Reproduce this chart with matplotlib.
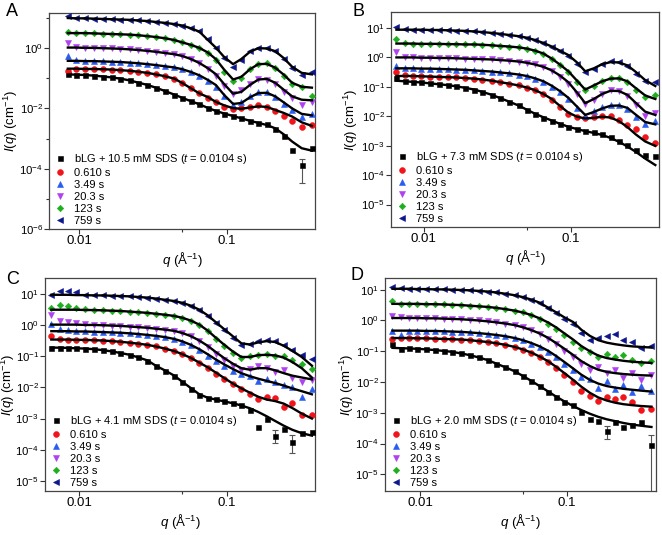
import matplotlib
matplotlib.use("Agg")
import matplotlib.pyplot as plt
import numpy as np
from matplotlib.ticker import FixedLocator, FixedFormatter, NullFormatter, LogFormatterSciNotation

plt.rcParams['font.family'] = ['Liberation Sans', 'DejaVu Sans']
plt.rcParams['mathtext.fontset'] = 'custom'
plt.rcParams['mathtext.rm'] = 'Liberation Sans'
plt.rcParams['mathtext.it'] = 'Liberation Sans:italic'

# q grid (1/A) shared by all panels; panel A starts at the third point
Q = [0.0065, 0.0074, 0.0084, 0.0096, 0.011, 0.0126, 0.0145, 0.0166, 0.019, 0.022,
     0.025, 0.029, 0.033, 0.038, 0.044, 0.050, 0.057, 0.065, 0.074, 0.084,
     0.096, 0.11, 0.125, 0.143, 0.163, 0.186, 0.212, 0.242, 0.276, 0.32, 0.375]

TIMES = ['0.610 s', '3.49 s', '20.3 s', '123 s', '759 s']

# all intensities below are log10(I / cm^-1)
# ---- panel A, 10.5 mM SDS (q = Q[2:])
A_BLG = [-0.85, -0.88, -0.89, -0.91, -0.94, -0.97, -1.01, -1.07, -1.14, -1.22, -1.31, -1.42, -1.54, -1.65, -1.76,
         -1.86, -1.98, -2.08, -2.17, -2.25, -2.33, -2.40, -2.47, -2.52, -2.68, -2.90, -3.38, -3.88, -3.30]
A_0610 = [-0.76, -0.68, -0.68, -0.69, -0.70, -0.71, -0.73, -0.75, -0.78, -0.82, -0.87, -0.93, -1.02, -1.16, -1.33,
          -1.50, -1.64, -1.80, -1.94, -2.02, -2.00, -1.94, -1.90, -1.96, -2.10, -2.24, -2.40, -2.62, -2.56]
A_349 = [-0.27, -0.40, -0.42, -0.43, -0.44, -0.45, -0.46, -0.48, -0.50, -0.53, -0.56, -0.60, -0.64, -0.70, -0.80,
         -0.92, -1.08, -1.28, -1.60, -1.88, -1.78, -1.60, -1.46, -1.47, -1.62, -1.84, -2.06, -2.30, -2.20]
A_203 = [0.16, 0.03, 0.02, 0.01, 0.00, -0.01, -0.02, -0.04, -0.06, -0.09, -0.12, -0.16, -0.20, -0.27, -0.37,
         -0.50, -0.70, -0.92, -1.25, -1.52, -1.40, -1.18, -1.02, -1.04, -1.18, -1.44, -1.66, -1.90, -1.80]
A_123 = [0.55, 0.51, 0.50, 0.49, 0.48, 0.47, 0.46, 0.45, 0.43, 0.40, 0.37, 0.33, 0.27, 0.19, 0.11,
         0.01, -0.16, -0.40, -0.78, -1.08, -0.98, -0.70, -0.52, -0.50, -0.66, -0.92, -1.18, -1.30, -1.60]
A_759 = [1.06, 1.00, 0.99, 0.98, 0.97, 0.97, 0.95, 0.94, 0.92, 0.90, 0.87, 0.84, 0.80, 0.74, 0.66,
         0.56, 0.30, 0.02, -0.32, -0.62, -0.40, -0.10, 0.02, 0.00, -0.08, -0.36, -0.66, -0.88, -0.80]
A_FIT_BLG = [-0.87, -0.88, -0.89, -0.91, -0.94, -0.97, -1.01, -1.07, -1.14, -1.22, -1.31, -1.42, -1.54, -1.65, -1.76,
             -1.86, -1.98, -2.08, -2.17, -2.25, -2.33, -2.41, -2.48, -2.55, -2.66, -2.86, -3.10, -3.32, -3.40]
A_FIT_0610 = [-0.68, -0.68, -0.69, -0.69, -0.70, -0.71, -0.73, -0.75, -0.78, -0.82, -0.87, -0.93, -1.01, -1.16, -1.33,
              -1.50, -1.62, -1.78, -1.90, -1.99, -2.01, -1.97, -1.93, -1.95, -2.05, -2.15, -2.27, -2.46, -2.58]
A_FIT_349 = [-0.42, -0.42, -0.43, -0.43, -0.44, -0.45, -0.46, -0.48, -0.50, -0.53, -0.56, -0.60, -0.64, -0.70, -0.79,
             -0.90, -1.05, -1.22, -1.56, -1.85, -1.82, -1.63, -1.49, -1.48, -1.60, -1.80, -2.00, -2.18, -2.23]
A_FIT_203 = [0.02, 0.02, 0.01, 0.01, 0.00, -0.01, -0.02, -0.04, -0.06, -0.09, -0.12, -0.16, -0.20, -0.26, -0.36,
             -0.49, -0.66, -0.86, -1.20, -1.51, -1.45, -1.22, -1.04, -1.02, -1.15, -1.38, -1.60, -1.71, -1.73]
A_FIT_123 = [0.50, 0.50, 0.50, 0.49, 0.48, 0.47, 0.46, 0.45, 0.43, 0.40, 0.37, 0.33, 0.27, 0.19, 0.11,
             0.01, -0.14, -0.36, -0.72, -1.04, -0.95, -0.70, -0.53, -0.52, -0.65, -0.88, -1.15, -1.28, -1.31]
A_FIT_759 = [1.00, 0.99, 0.99, 0.98, 0.97, 0.96, 0.95, 0.94, 0.92, 0.90, 0.87, 0.84, 0.80, 0.75, 0.66,
             0.55, 0.28, 0.02, -0.30, -0.53, -0.36, -0.12, 0.00, -0.01, -0.10, -0.33, -0.62, -0.82, -0.87]
A_ERR_Q, A_ERR_LO, A_ERR_HI = [0.32], [-4.46], [-3.67]

# ---- panel B, 7.3 mM SDS
B_BLG = [-0.72, -0.80, -0.83, -0.86, -0.89, -0.92, -0.95, -0.99, -1.04, -1.10, -1.18, -1.28, -1.39, -1.51, -1.64, -1.78,
         -1.92, -2.05, -2.16, -2.27, -2.36, -2.43, -2.49, -2.55, -2.62, -2.72, -2.84, -2.98, -3.14, -3.32, -3.36]
B_0610 = [-0.52, -0.60, -0.63, -0.65, -0.66, -0.67, -0.68, -0.69, -0.71, -0.73, -0.76, -0.80, -0.85, -0.90, -0.96, -1.03,
          -1.12, -1.26, -1.44, -1.68, -1.92, -2.04, -2.08, -2.04, -1.98, -2.00, -2.14, -2.30, -2.45, -2.70, -2.90]
B_349 = [-0.30, -0.37, -0.38, -0.39, -0.39, -0.40, -0.41, -0.42, -0.43, -0.45, -0.47, -0.49, -0.52, -0.55, -0.59, -0.65,
         -0.73, -0.84, -1.00, -1.18, -1.42, -1.72, -1.98, -1.84, -1.70, -1.62, -1.62, -1.76, -2.02, -2.26, -2.18]
B_203 = [0.18, 0.02, 0.00, -0.02, -0.02, -0.03, -0.03, -0.04, -0.05, -0.06, -0.07, -0.08, -0.10, -0.12, -0.15, -0.19,
         -0.25, -0.34, -0.47, -0.66, -0.90, -1.24, -1.58, -1.45, -1.24, -1.10, -1.14, -1.32, -1.62, -2.00, -1.90]
B_123 = [0.62, 0.48, 0.46, 0.46, 0.45, 0.45, 0.44, 0.44, 0.43, 0.43, 0.42, 0.40, 0.38, 0.36, 0.33, 0.29,
         0.22, 0.10, -0.08, -0.28, -0.52, -0.84, -1.12, -0.98, -0.80, -0.72, -0.70, -0.86, -1.12, -1.36, -1.30]
B_759 = [1.03, 0.94, 0.93, 0.93, 0.93, 0.92, 0.91, 0.90, 0.89, 0.87, 0.85, 0.82, 0.79, 0.76, 0.71, 0.66,
         0.58, 0.48, 0.36, 0.20, 0.04, -0.22, -0.52, -0.40, -0.22, -0.14, -0.16, -0.30, -0.56, -0.80, -0.86]
B_FIT_BLG = [-0.80, -0.82, -0.84, -0.86, -0.89, -0.92, -0.95, -0.99, -1.04, -1.10, -1.18, -1.28, -1.39, -1.51, -1.64, -1.78,
             -1.92, -2.04, -2.15, -2.26, -2.36, -2.44, -2.51, -2.57, -2.64, -2.74, -2.87, -3.03, -3.21, -3.44, -3.66]
B_FIT_0610 = [-0.64, -0.64, -0.64, -0.65, -0.66, -0.67, -0.68, -0.69, -0.71, -0.73, -0.76, -0.80, -0.85, -0.90, -0.96, -1.03,
              -1.12, -1.25, -1.42, -1.65, -1.88, -2.02, -2.08, -2.06, -2.02, -2.05, -2.17, -2.37, -2.62, -2.86, -3.01]
B_FIT_349 = [-0.38, -0.38, -0.38, -0.39, -0.39, -0.40, -0.41, -0.42, -0.43, -0.45, -0.47, -0.49, -0.52, -0.55, -0.59, -0.64,
             -0.72, -0.82, -0.97, -1.15, -1.38, -1.68, -1.96, -1.86, -1.74, -1.65, -1.64, -1.72, -1.95, -2.20, -2.28]
B_FIT_203 = [-0.01, -0.01, -0.01, -0.02, -0.02, -0.03, -0.03, -0.04, -0.05, -0.06, -0.07, -0.08, -0.10, -0.12, -0.15, -0.19,
             -0.25, -0.33, -0.45, -0.62, -0.85, -1.20, -1.56, -1.42, -1.25, -1.14, -1.15, -1.28, -1.55, -1.85, -1.96]
B_FIT_123 = [0.46, 0.46, 0.46, 0.45, 0.45, 0.45, 0.44, 0.44, 0.43, 0.43, 0.42, 0.40, 0.38, 0.36, 0.33, 0.29,
             0.22, 0.12, -0.05, -0.25, -0.48, -0.80, -1.10, -0.96, -0.82, -0.73, -0.72, -0.82, -1.05, -1.30, -1.42]
B_FIT_759 = [0.93, 0.93, 0.93, 0.93, 0.92, 0.92, 0.91, 0.90, 0.89, 0.87, 0.85, 0.82, 0.79, 0.75, 0.71, 0.66,
             0.58, 0.48, 0.36, 0.22, 0.07, -0.18, -0.48, -0.38, -0.24, -0.17, -0.18, -0.28, -0.50, -0.78, -0.98]
B_ERR_Q, B_ERR_LO, B_ERR_HI = [], [], []

# ---- panel C, 4.1 mM SDS
C_BLG = [-0.72, -0.72, -0.73, -0.74, -0.75, -0.77, -0.80, -0.84, -0.89, -0.95, -1.03, -1.14, -1.30, -1.46, -1.64, -1.84,
         -2.06, -2.24, -2.34, -2.38, -2.44, -2.50, -2.56, -2.72, -3.27, -3.00, -3.56, -3.35, -3.74, -3.45, -3.42]
C_0610 = [-0.34, -0.44, -0.46, -0.47, -0.47, -0.48, -0.49, -0.51, -0.53, -0.56, -0.59, -0.63, -0.68, -0.75, -0.83, -0.93,
          -1.06, -1.22, -1.38, -1.56, -1.74, -1.90, -2.05, -2.20, -2.36, -2.30, -2.35, -2.62, -2.50, -2.90, -2.88]
C_349 = [0.04, -0.12, -0.16, -0.19, -0.20, -0.21, -0.22, -0.23, -0.24, -0.26, -0.28, -0.31, -0.34, -0.38, -0.44, -0.53,
         -0.65, -0.80, -0.98, -1.14, -1.30, -1.46, -1.56, -1.62, -1.80, -1.74, -1.82, -1.92, -1.98, -2.30, -2.05]
C_203 = [0.32, 0.15, 0.12, 0.06, 0.03, 0.01, 0.00, -0.01, -0.02, -0.04, -0.06, -0.08, -0.11, -0.14, -0.18, -0.25,
         -0.36, -0.52, -0.70, -0.92, -1.12, -1.30, -1.44, -1.40, -1.32, -1.36, -1.50, -1.44, -1.70, -1.82, -1.76]
C_123 = [0.56, 0.64, 0.62, 0.55, 0.52, 0.50, 0.48, 0.47, 0.46, 0.44, 0.42, 0.40, 0.37, 0.34, 0.30, 0.24,
         0.15, 0.00, -0.20, -0.44, -0.68, -0.90, -1.06, -1.00, -0.96, -0.94, -0.98, -1.00, -1.12, -1.26, -1.40]
C_759 = [0.96, 1.10, 1.10, 1.06, 0.98, 0.97, 0.96, 0.95, 0.94, 0.93, 0.91, 0.89, 0.86, 0.82, 0.78, 0.72,
         0.63, 0.48, 0.30, 0.06, -0.16, -0.40, -0.62, -0.60, -0.50, -0.48, -0.52, -0.62, -0.78, -0.96, -1.10]
C_FIT_BLG = [-0.72, -0.72, -0.73, -0.74, -0.75, -0.77, -0.80, -0.84, -0.89, -0.95, -1.03, -1.13, -1.30, -1.45, -1.62, -1.82,
             -2.02, -2.22, -2.33, -2.39, -2.45, -2.51, -2.58, -2.67, -2.79, -2.93, -3.08, -3.23, -3.36, -3.47, -3.55]
C_FIT_0610 = [-0.46, -0.46, -0.46, -0.47, -0.47, -0.48, -0.49, -0.51, -0.53, -0.56, -0.59, -0.63, -0.68, -0.75, -0.83, -0.93,
              -1.05, -1.20, -1.35, -1.52, -1.70, -1.88, -2.03, -2.17, -2.30, -2.39, -2.44, -2.52, -2.66, -2.84, -3.00]
C_FIT_349 = [-0.19, -0.19, -0.19, -0.20, -0.20, -0.21, -0.22, -0.23, -0.24, -0.26, -0.28, -0.31, -0.34, -0.38, -0.44, -0.52,
             -0.63, -0.77, -0.93, -1.10, -1.26, -1.41, -1.54, -1.64, -1.72, -1.79, -1.86, -1.94, -2.03, -2.12, -2.22]
C_FIT_203 = [0.02, 0.02, 0.02, 0.02, 0.01, 0.01, 0.00, -0.01, -0.02, -0.04, -0.06, -0.08, -0.11, -0.14, -0.18, -0.25,
             -0.35, -0.49, -0.66, -0.86, -1.06, -1.24, -1.38, -1.43, -1.38, -1.38, -1.45, -1.54, -1.62, -1.68, -1.74]
C_FIT_123 = [0.50, 0.50, 0.50, 0.50, 0.49, 0.49, 0.48, 0.47, 0.46, 0.44, 0.42, 0.40, 0.37, 0.34, 0.30, 0.24,
             0.15, 0.02, -0.17, -0.40, -0.63, -0.85, -1.02, -1.02, -0.96, -0.95, -0.97, -1.04, -1.18, -1.38, -1.68]
C_FIT_759 = [0.98, 0.98, 0.98, 0.97, 0.97, 0.96, 0.96, 0.95, 0.94, 0.93, 0.91, 0.89, 0.86, 0.82, 0.78, 0.72,
             0.63, 0.50, 0.32, 0.10, -0.13, -0.36, -0.58, -0.62, -0.55, -0.51, -0.54, -0.66, -0.82, -1.02, -1.30]
C_ERR_Q, C_ERR_LO, C_ERR_HI = [0.212, 0.276], [-3.80, -4.10], [-3.36, -3.52]

# ---- panel D, 2.0 mM SDS
D_BLG = [-0.78, -0.92, -0.91, -0.92, -0.94, -0.96, -0.99, -1.02, -1.07, -1.13, -1.20, -1.29, -1.40, -1.52, -1.65, -1.80,
         -1.96, -2.14, -2.32, -2.50, -2.66, -2.76, -2.96, -3.20, -3.26, -3.60, -3.30, -3.45, -3.38, -3.30, -4.04]
D_0610 = [-0.60, -0.57, -0.58, -0.58, -0.58, -0.59, -0.60, -0.61, -0.62, -0.64, -0.67, -0.70, -0.74, -0.79, -0.86, -0.95,
          -1.06, -1.20, -1.36, -1.55, -1.76, -2.00, -2.30, -2.45, -2.62, -2.50, -2.55, -2.48, -2.66, -2.92, -2.86]
D_349 = [-0.33, -0.46, -0.34, -0.33, -0.34, -0.34, -0.35, -0.36, -0.37, -0.39, -0.41, -0.44, -0.47, -0.51, -0.57, -0.65,
         -0.75, -0.86, -1.02, -1.20, -1.40, -1.62, -1.84, -1.90, -2.20, -1.98, -2.24, -2.10, -2.32, -2.12, -2.30]
D_203 = [0.16, 0.10, 0.08, 0.08, 0.07, 0.07, 0.06, 0.05, 0.04, 0.02, 0.00, -0.03, -0.06, -0.10, -0.15, -0.22,
         -0.32, -0.44, -0.60, -0.78, -0.98, -1.18, -1.40, -1.62, -1.52, -1.70, -1.60, -1.86, -1.70, -1.92, -1.76]
D_123 = [0.64, 0.55, 0.54, 0.54, 0.53, 0.53, 0.52, 0.51, 0.50, 0.48, 0.46, 0.44, 0.41, 0.37, 0.32, 0.26,
         0.17, 0.05, -0.10, -0.27, -0.48, -0.70, -0.90, -1.04, -1.20, -1.08, -1.20, -1.12, -1.30, -1.38, -1.32]
D_759 = [1.08, 1.04, 1.03, 1.02, 1.02, 1.01, 1.01, 1.00, 0.99, 0.98, 0.96, 0.94, 0.91, 0.87, 0.82, 0.76,
         0.68, 0.56, 0.40, 0.24, 0.06, -0.12, -0.40, -0.62, -0.58, -0.52, -0.45, -0.62, -0.70, -0.88, -0.82]
D_FIT_BLG = [-0.89, -0.90, -0.91, -0.92, -0.94, -0.96, -0.99, -1.02, -1.07, -1.13, -1.20, -1.29, -1.40, -1.52, -1.65, -1.80,
             -1.96, -2.13, -2.30, -2.47, -2.63, -2.78, -2.91, -3.03, -3.13, -3.21, -3.27, -3.33, -3.38, -3.42, -3.46]
D_FIT_0610 = [-0.57, -0.57, -0.57, -0.58, -0.58, -0.59, -0.60, -0.61, -0.62, -0.64, -0.67, -0.70, -0.74, -0.79, -0.86, -0.94,
              -1.04, -1.17, -1.32, -1.50, -1.71, -1.93, -2.15, -2.35, -2.50, -2.60, -2.67, -2.72, -2.75, -2.78, -2.80]
D_FIT_349 = [-0.33, -0.33, -0.33, -0.33, -0.34, -0.34, -0.35, -0.36, -0.37, -0.39, -0.41, -0.44, -0.47, -0.51, -0.57, -0.64,
             -0.73, -0.84, -0.98, -1.15, -1.35, -1.56, -1.76, -1.93, -2.05, -2.13, -2.18, -2.22, -2.25, -2.28, -2.31]
D_FIT_203 = [0.08, 0.08, 0.08, 0.08, 0.07, 0.07, 0.06, 0.05, 0.04, 0.02, 0.00, -0.03, -0.06, -0.10, -0.15, -0.22,
             -0.31, -0.42, -0.56, -0.73, -0.92, -1.12, -1.32, -1.48, -1.60, -1.67, -1.71, -1.74, -1.76, -1.78, -1.79]
D_FIT_123 = [0.54, 0.54, 0.54, 0.54, 0.53, 0.53, 0.52, 0.51, 0.50, 0.48, 0.46, 0.44, 0.41, 0.37, 0.32, 0.26,
             0.18, 0.07, -0.06, -0.22, -0.42, -0.62, -0.83, -1.00, -1.14, -1.22, -1.27, -1.31, -1.34, -1.36, -1.38]
D_FIT_759 = [1.03, 1.03, 1.03, 1.02, 1.02, 1.01, 1.01, 1.00, 0.99, 0.98, 0.96, 0.94, 0.91, 0.87, 0.82, 0.76,
             0.68, 0.58, 0.42, 0.27, 0.10, -0.05, -0.30, -0.50, -0.64, -0.72, -0.77, -0.81, -0.84, -0.86, -0.88]
D_ERR_Q, D_ERR_LO, D_ERR_HI = [0.186, 0.375], [-3.85, -6.0], [-3.42, -3.72]

# marker style per series (bLG, 0.610, 3.49, 20.3, 123, 759 s)
COLORS = ['#000000', '#f2141a', '#2a5cf2', '#b040f0', '#1fae1f', '#0d168c']
MARKERS = ['s', 'o', '^', 'v', 'D', '<']
MSIZES = [3.6, 4.2, 4.2, 4.2, 3.3, 4.2]

fig = plt.figure(figsize=(6.62, 5.35), dpi=100)
W, H = 662.0, 535.0


def draw_panel(px, letter, letter_xy, ylab_x, conc, q, data, fits, xlim, ylim, major, minor, errs):
    l, t, r, b = px
    ax = fig.add_axes([l / W, 1 - b / H, (r - l) / W, (b - t) / H])
    labels = ['bLG + %s mM SDS ($\\it{t}$ = 0.0104 s)' % conc] + TIMES
    for d, c, m, ms, lab in zip(data, COLORS, MARKERS, MSIZES, labels):
        ax.plot(q, 10.0 ** np.array(d), ls='none', marker=m, ms=ms, color=c, mec=c, mew=0.4, label=lab, zorder=3)
    for f in fits:
        ax.plot(q, 10.0 ** np.array(f), color='k', lw=1.7, zorder=4, solid_joinstyle='round')
    eq, elo, ehi = errs
    if eq:
        ax.vlines(eq, 10.0 ** np.array(elo), 10.0 ** np.array(ehi), color='#555555', lw=0.8, zorder=2)
        ax.plot(eq + eq, list(10.0 ** np.array(elo)) + list(10.0 ** np.array(ehi)), ls='none', marker='_',
                ms=4, color='#555555', mew=0.8, zorder=2)

    ax.set_xscale('log')
    ax.set_yscale('log')
    ax.set_xlim(10 ** xlim[0], 10 ** xlim[1])
    ax.set_ylim(10 ** ylim[0], 10 ** ylim[1])
    ax.xaxis.set_major_locator(FixedLocator([0.01, 0.1]))
    ax.xaxis.set_major_formatter(FixedFormatter(['0.01', '0.1']))
    ax.xaxis.set_minor_locator(FixedLocator([0.05]))
    ax.xaxis.set_minor_formatter(NullFormatter())
    ax.yaxis.set_major_locator(FixedLocator([10.0 ** k for k in major]))
    ax.yaxis.set_major_formatter(LogFormatterSciNotation())
    ax.yaxis.set_minor_locator(FixedLocator([10.0 ** k for k in minor]))
    ax.yaxis.set_minor_formatter(NullFormatter())
    ax.tick_params(which='both', direction='out', width=0.8, color='#333333', pad=1.0)
    ax.tick_params(which='major', length=3.3)
    ax.tick_params(which='minor', length=2)
    ax.tick_params(axis='x', labelsize=9.5)
    ax.tick_params(axis='y', labelsize=8.2)
    for s in ax.spines.values():
        s.set_color('#444444')
        s.set_linewidth(0.9)

    ax.set_xlabel('$\\it{q}$ (Å$^{-1}$)', fontsize=9.5, labelpad=2)
    ax.set_ylabel('$\\it{I}$($\\it{q}$) (cm$^{-1}$)', fontsize=9.5)
    ax.yaxis.set_label_coords((ylab_x - l) / (r - l), 0.5)
    ax.legend(loc='lower left', bbox_to_anchor=(0.0, -0.01), frameon=False, fontsize=8,
              handlelength=1.0, handletextpad=0.75, labelspacing=0.17, borderpad=0.5, borderaxespad=0.0)
    fig.text(letter_xy[0] / W, 1 - letter_xy[1] / H, letter, fontsize=13, ha='left', va='top')
    return ax


draw_panel((49, 13, 315, 229), 'A', (6, 3), 20, '10.5', Q[2:],
           [A_BLG, A_0610, A_349, A_203, A_123, A_759],
           [A_FIT_BLG, A_FIT_0610, A_FIT_349, A_FIT_203, A_FIT_123, A_FIT_759],
           (-2.203, -0.405), (-6.0, 1.167), [-6, -4, -2, 0], [-5, -3, -1, 1],
           (A_ERR_Q, A_ERR_LO, A_ERR_HI))
draw_panel((391, 12, 659, 227), 'B', (353, 3), 360, '7.3', Q,
           [B_BLG, B_0610, B_349, B_203, B_123, B_759],
           [B_FIT_BLG, B_FIT_0610, B_FIT_349, B_FIT_203, B_FIT_123, B_FIT_759],
           (-2.224, -0.401), (-5.76, 1.53), [-5, -4, -3, -2, -1, 0, 1], [],
           (B_ERR_Q, B_ERR_LO, B_ERR_HI))
draw_panel((45, 278, 315, 491), 'C', (6, 271), 17.5, '4.1', Q,
           [C_BLG, C_0610, C_349, C_203, C_123, C_759],
           [C_FIT_BLG, C_FIT_0610, C_FIT_349, C_FIT_203, C_FIT_123, C_FIT_759],
           (-2.23, -0.405), (-5.33, 1.52), [-5, -4, -3, -2, -1, 0, 1], [],
           (C_ERR_Q, C_ERR_LO, C_ERR_HI))
draw_panel((385, 278, 656, 491), 'D', (351, 267), 356, '2.0', Q,
           [D_BLG, D_0610, D_349, D_203, D_123, D_759],
           [D_FIT_BLG, D_FIT_0610, D_FIT_349, D_FIT_203, D_FIT_123, D_FIT_759],
           (-2.238, -0.395), (-5.54, 1.38), [-5, -4, -3, -2, -1, 0, 1], [],
           (D_ERR_Q, D_ERR_LO, D_ERR_HI))

fig.savefig('out.png', dpi=100)
